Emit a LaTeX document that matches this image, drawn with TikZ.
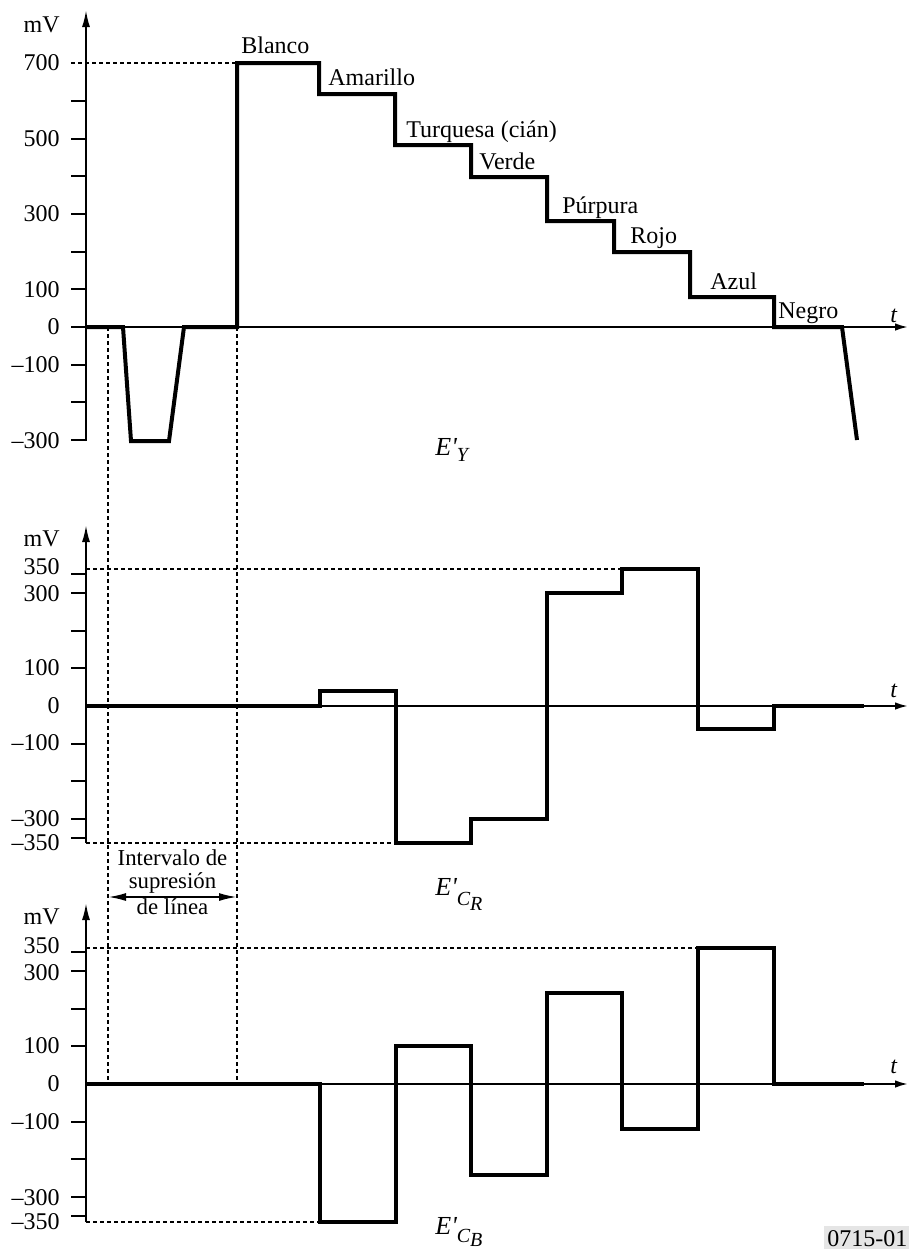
\documentclass[tikz,border=0pt]{standalone}
\usepackage{fontspec}
\setmainfont{Liberation Serif}
\usetikzlibrary{arrows.meta}
\newcommand\lbfont{\fontsize{12}{14.5}\selectfont}
\newcommand\intfont{\fontsize{11.4}{14}\selectfont}
\newcommand\subfont{\fontsize{10}{12}\selectfont}
\begin{document}
\begin{tikzpicture}[x=0.5pt,y=-0.5pt,
  axisline/.style={line width=1pt},
  vaxis/.style={line width=1pt,-{Latex[length=8.5pt,width=4pt]}},
  haxis/.style={line width=1pt,-{Latex[length=6.5pt,width=3.8pt]}},
  sig/.style={line width=2pt,line join=miter},
  guide/.style={line width=0.9pt,dash pattern=on 2pt off 1.5pt},
  tickmark/.style={line width=1pt},
  lab/.style={inner sep=0pt,font=\lbfont},
  ylab/.style={lab,anchor=east},
  clab/.style={lab,anchor=base west},
  tlab/.style={lab,anchor=base west,font=\lbfont\itshape},
  elab/.style={inner sep=0pt,anchor=base west,font=\fontsize{13}{15}\selectfont\itshape},
  ilab/.style={inner sep=0pt,anchor=base,font=\intfont},
  span/.style={line width=1pt,{Latex[length=9pt,width=4pt]}-{Latex[length=9pt,width=4pt]}}
]
\useasboundingbox (0,0) rectangle (909,1249);

% ===== Panel 1 : E'Y =====
\coordinate (a1b) at (86,441);
\coordinate (a1t) at (86,10);
\coordinate (t1l) at (86,327);
\coordinate (t1r) at (908,327);
\draw[vaxis] (a1b) -- (a1t);
\draw[haxis] (t1l) -- (t1r);
\foreach \v in {600,500,...,-300}{\draw[tickmark] (71,{327-0.377*\v}) -- (86,{327-0.377*\v});}
\draw[guide] (71,63) -- (237,63);
\node[ylab] (m1) at (60,25) {mV};
\foreach \v/\n in {700/p700,500/p500,300/p300,100/p100,0/p0}{\node[ylab] (y1\n) at (60,{327-0.377*\v}) {\v};}
\node[ylab] (y1m100) at (60,365) {--100};
\node[ylab] (y1m300) at (60,441) {--300};
\draw[sig] (86,327) -- (123,327) -- (131,441) -- (169,441) -- (184,327) -- (237,327)
  -- (237,63) -- (319,63) -- (319,94) -- (395,94) -- (395,145) -- (471,145)
  -- (471,177) -- (547,177) -- (547,221) -- (614,221) -- (614,252) -- (690,252)
  -- (690,297) -- (774,297) -- (774,327) -- (842,327) -- (857,440);
\node[clab] (blanco) at (241,53) {Blanco};
\node[clab] (amarillo) at (328,85) {Amarillo};
\node[clab] (turquesa) at (406,137) {Turquesa (cián)};
\node[clab] (verde) at (479,169) {Verde};
\node[clab] (purpura) at (562,213) {Púrpura};
\node[clab] (rojo) at (630,243) {Rojo};
\node[clab] (azul) at (710,289) {Azul};
\node[clab] (negro) at (778,318) {Negro};
\node[tlab] (tt1) at (890,322) {t};
\node[elab] (ey) at (435,455) {E\textquotesingle\raisebox{-3pt}{\subfont Y}};

% ===== Panel 2 : E'CR =====
\coordinate (a2b) at (86,843);
\coordinate (a2t) at (86,525);
\coordinate (t2l) at (86,706);
\coordinate (t2r) at (908,706);
\draw[vaxis] (a2b) -- (a2t);
\draw[haxis] (t2l) -- (t2r);
\foreach \v in {350,300,200,100,-100,-200,-300,-350}{\draw[tickmark] (71,{706-0.377*\v}) -- (86,{706-0.377*\v});}
\draw[guide] (86,569) -- (622,569);
\draw[guide] (86,843) -- (396,843);
\node[ylab] (m2) at (60,539) {mV};
\node[ylab] (y2p350) at (60,567) {350};
\node[ylab] (y2p300) at (60,594) {300};
\node[ylab] (y2p100) at (60,668) {100};
\node[ylab] (y2p0) at (60,706) {0};
\node[ylab] (y2m100) at (60,743) {--100};
\node[ylab] (y2m300) at (60,819) {--300};
\node[ylab] (y2m350) at (60,843) {--350};
\draw[sig] (86,706) -- (320,706) -- (320,691) -- (396,691) -- (396,843) -- (471,843)
  -- (471,819) -- (547,819) -- (547,593) -- (622,593) -- (622,569) -- (698,569)
  -- (698,729) -- (774,729) -- (774,706) -- (864,706);
\node[tlab] (tt2) at (890,697) {t};
\node[elab] (ecr) at (435,895) {E\textquotesingle\raisebox{-5pt}{\subfont C\raisebox{-2.5pt}{R}}};

% ===== Panel 3 : E'CB =====
\coordinate (a3b) at (86,1222);
\coordinate (a3t) at (86,903);
\coordinate (t3l) at (86,1084);
\coordinate (t3r) at (908,1084);
\draw[vaxis] (a3b) -- (a3t);
\draw[haxis] (t3l) -- (t3r);
\foreach \v in {350,300,200,100,-100,-200,-300,-350}{\draw[tickmark] (71,{1084-0.377*\v}) -- (86,{1084-0.377*\v});}
\draw[guide] (86,948) -- (698,948);
\draw[guide] (86,1222) -- (320,1222);
\node[ylab] (m3) at (60,917) {mV};
\node[ylab] (y3p350) at (60,946) {350};
\node[ylab] (y3p300) at (60,973) {300};
\node[ylab] (y3p100) at (60,1046) {100};
\node[ylab] (y3p0) at (60,1084) {0};
\node[ylab] (y3m100) at (60,1122) {--100};
\node[ylab] (y3m300) at (60,1198) {--300};
\node[ylab] (y3m350) at (60,1222) {--350};
\draw[sig] (86,1084) -- (320,1084) -- (320,1222) -- (396,1222) -- (396,1046) -- (471,1046)
  -- (471,1175) -- (547,1175) -- (547,993) -- (622,993) -- (622,1129) -- (698,1129)
  -- (698,948) -- (774,948) -- (774,1084) -- (864,1084);
\node[tlab] (tt3) at (890,1073) {t};
\node[elab] (ecb) at (435,1234) {E\textquotesingle\raisebox{-4pt}{\subfont C\raisebox{-2pt}{B}}};

% ===== Blanking interval =====
\coordinate (v1t) at (108,327);
\coordinate (v1b) at (108,1084);
\coordinate (v2t) at (237,327);
\coordinate (v2b) at (237,1084);
\draw[guide] (v1t) -- (v1b);
\draw[guide] (v2t) -- (v2b);
\coordinate (s1) at (108,897);
\coordinate (s2) at (237,897);
\draw[span] (s1) -- (s2);
\node[ilab] (int1) at (172.5,865) {Intervalo de};
\node[ilab] (int2) at (172.5,888) {supresión};
\node[ilab] (int3) at (172.5,914) {de línea};

% ===== Reference tag =====
\fill[black!10] (824,1226) rectangle (909,1249);
\node[lab,anchor=base west] (tag) at (827,1246) {0715-01};
\end{tikzpicture}
\end{document}
